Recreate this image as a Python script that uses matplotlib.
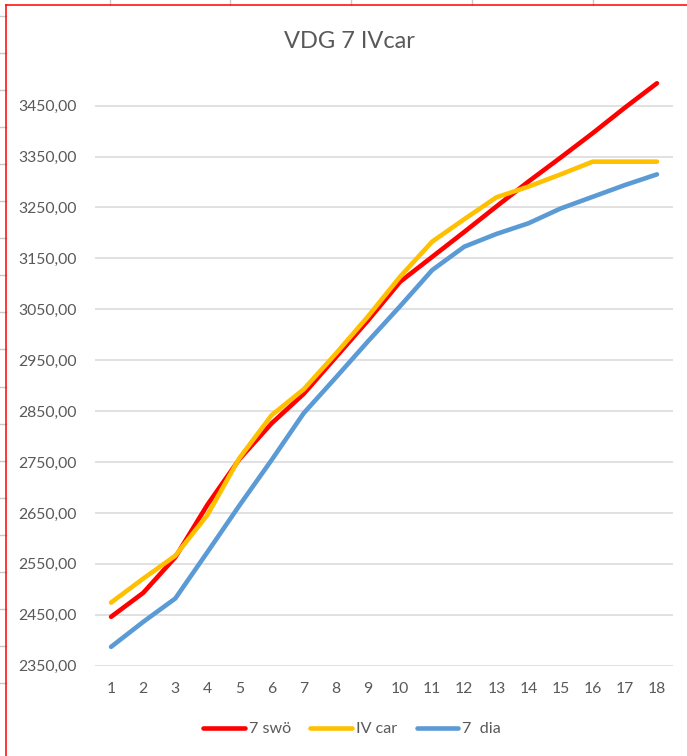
#!/usr/bin/env python3
"""Excel-style line chart 'VDG 7 IVcar' with three series over 18 steps."""
import matplotlib
matplotlib.use('Agg')
import matplotlib.pyplot as plt
from matplotlib.lines import Line2D
from matplotlib.ticker import FuncFormatter

W, H, DPI = 687, 756, 100

categories = list(range(1, 19))
swo_7 = [2446, 2493, 2563, 2666, 2756, 2826, 2884, 2956, 3028, 3104,
         3153, 3202, 3252, 3301, 3348, 3396, 3446, 3494]
iv_car = [2474, 2521, 2566, 2646, 2758, 2842, 2893, 2963, 3036, 3114,
          3183, 3227, 3270, 3291, 3315, 3340, 3340, 3340]
dia_7 = [2387, 2436, 2482, 2573, 2665, 2754, 2846, 2916, 2987, 3056,
         3127, 3173, 3198, 3219, 3248, 3271, 3294, 3315]
series_names = ['7 swö', 'IV car', '7  dia']
y_ticks = list(range(2350, 3451, 100))

TEXT = '#595959'
GRID = '#D9D9D9'
COLORS = ['#FF0000', '#FFC000', '#5B9BD5']

plt.rcParams['font.family'] = ['Lato', 'DejaVu Sans']


def fx(x):
    return x / W


def fy(y):
    return 1 - y / H


fig = plt.figure(figsize=(W / DPI, H / DPI), dpi=DPI)
ax = fig.add_axes([fx(95), fy(665.7), fx(673) - fx(95), fy(80.2) - fy(665.7)])

for vals, name, col in zip([swo_7, iv_car, dia_7], series_names, COLORS):
    ax.plot(categories, vals, color=col, lw=3.3, label=name,
            solid_capstyle='round', solid_joinstyle='round', zorder=3)

ax.set_xlim(0.5, 18.5)
ax.set_ylim(2350, 3500)
ax.set_xticks(categories)
ax.set_yticks(y_ticks)
ax.yaxis.set_major_formatter(FuncFormatter(lambda v, _: f'{v:.2f}'.replace('.', ',')))
ax.grid(axis='y', color=GRID, lw=1.1, zorder=0)
for s in ax.spines.values():
    s.set_visible(False)
ax.tick_params(axis='both', length=0, labelsize=11.3, labelcolor=TEXT)
ax.tick_params(axis='y', pad=13)
ax.tick_params(axis='x', pad=12)

fig.text(0.508, fy(41), 'VDG 7 IVcar', ha='center', va='center',
         fontsize=17, color=TEXT)

leg = fig.legend(loc='center', bbox_to_anchor=(fx(352), fy(729)), ncol=3,
                 frameon=False, fontsize=11.6, handlelength=2.6,
                 handletextpad=0.25, columnspacing=1.2)
for t in leg.get_texts():
    t.set_color(TEXT)
for h in leg.legend_handles:
    h.set_linewidth(3.3)
    h.set_solid_capstyle('round')

# spreadsheet surroundings visible in the screenshot
for x in [110, 230, 351, 472, 593]:
    fig.add_artist(Line2D([fx(x), fx(x)], [fy(0), fy(5)], color='#C8C8C8', lw=1))
for k in range(19):
    y = 16 + 37.05 * k
    fig.add_artist(Line2D([fx(0), fx(6)], [fy(y), fy(y)], color='#C8C8C8', lw=1))
fig.add_artist(Line2D([fx(6), fx(687)], [fy(5), fy(5)], color='#FF0000', lw=1.1))
fig.add_artist(Line2D([fx(6), fx(6)], [fy(5), fy(756)], color='#FF0000', lw=1.1))

fig.savefig('out.png', dpi=DPI)
